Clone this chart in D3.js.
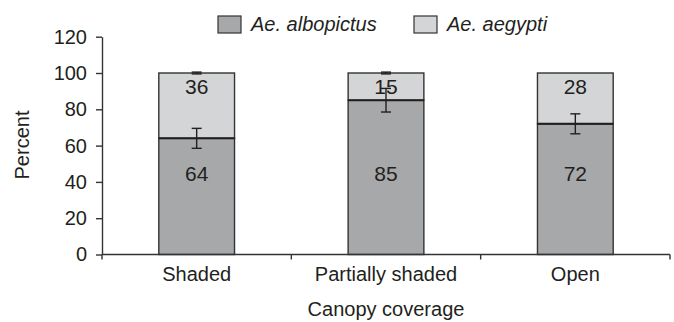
<!DOCTYPE html>
<html>
<head>
<meta charset="utf-8">
<script src="https://cdn.jsdelivr.net/npm/d3@7"></script>
<style>
  body { margin: 0; background: #fff; }
  svg { display: block; font-family: "Liberation Sans", Arial, sans-serif; }
</style>
</head>
<body>
<div id="chart"></div>
<script>
const categories = ["Shaded", "Partially shaded", "Open"];
const series = ["Ae. albopictus", "Ae. aegypti"];
const albopictus = [64, 85, 72];
const aegypti = [36, 15, 28];
const albopictusErr = [5.5, 6.5, 5.5];
const aegyptiErr = [0.5, 0.5, 0];
const yTicks = [0, 20, 40, 60, 80, 100, 120];

const width = 674, height = 322;
const ink = "#231f20";
const colors = ["#a7a8aa", "#d4d5d6"];

const svg = d3.select("#chart")
    .append("svg")
    .attr("width", width)
    .attr("height", height);

const x = d3.scaleBand()
    .domain(categories)
    .range([102, 670])
    .padding(0);

const y = d3.scaleLinear()
    .domain([0, 120])
    .range([254.5, 36.7]);

const barW = x.bandwidth() * 0.4;

// stacked data
const stackData = categories.map((c, i) => ({
    cat: c,
    "Ae. albopictus": albopictus[i],
    "Ae. aegypti": aegypti[i]
}));
const stacked = d3.stack().keys(series)(stackData);

const layers = svg.selectAll(".layer")
    .data(stacked)
    .enter()
    .append("g")
    .attr("class", "layer")
    .attr("fill", (d, i) => colors[i]);

layers.selectAll("rect")
    .data(d => d)
    .enter()
    .append("rect")
    .attr("x", d => x(d.data.cat) + (x.bandwidth() - barW) / 2)
    .attr("y", d => y(d[1]))
    .attr("width", barW)
    .attr("height", d => y(d[0]) - y(d[1]))
    .attr("stroke", "#333")
    .attr("stroke-width", 1.4);

// darker boundary between the two segments
svg.selectAll(".split")
    .data(stacked[0])
    .enter()
    .append("line")
    .attr("x1", d => x(d.data.cat) + (x.bandwidth() - barW) / 2)
    .attr("x2", d => x(d.data.cat) + (x.bandwidth() + barW) / 2)
    .attr("y1", d => y(d[1]))
    .attr("y2", d => y(d[1]))
    .attr("stroke", ink)
    .attr("stroke-width", 2);

// error bars
const errs = [albopictusErr, aegyptiErr];
stacked.forEach((layer, si) => {
    layer.forEach((d, i) => {
        const e = errs[si][i];
        if (!e) return;
        const cx = x(d.data.cat) + x.bandwidth() / 2;
        const g = svg.append("g")
            .attr("stroke", ink)
            .attr("stroke-width", 1.4);
        g.append("line")
            .attr("x1", cx).attr("x2", cx)
            .attr("y1", y(d[1] - e)).attr("y2", y(d[1] + e));
        [d[1] - e, d[1] + e].forEach(v => {
            g.append("line")
                .attr("x1", cx - 5).attr("x2", cx + 5)
                .attr("y1", y(v)).attr("y2", y(v));
        });
    });
});

// value labels
categories.forEach((c, i) => {
    const cx = x(c) + x.bandwidth() / 2;
    svg.append("text")
        .attr("x", cx)
        .attr("y", y(40.5))
        .attr("text-anchor", "middle")
        .attr("fill", ink)
        .style("font-size", "21px")
        .text(albopictus[i]);
    svg.append("text")
        .attr("x", cx)
        .attr("y", y(100) + 21)
        .attr("text-anchor", "middle")
        .attr("fill", ink)
        .style("font-size", "21px")
        .text(aegypti[i]);
});

// y axis
const yAxis = svg.append("g")
    .attr("transform", `translate(${x.range()[0]},0)`)
    .call(d3.axisLeft(y).tickValues(yTicks).tickSize(6).tickSizeOuter(0).tickPadding(9));
yAxis.select(".domain").attr("stroke", "#333").attr("stroke-width", 1.4);
yAxis.selectAll(".tick line").attr("stroke", "#333").attr("stroke-width", 1.4);
yAxis.selectAll(".tick text")
    .attr("fill", ink)
    .style("font-size", "20px")
    .style("font-family", "'Liberation Sans', Arial, sans-serif");

// x axis (ticks between categories)
const x0 = x.range()[0], x1 = x.range()[1];
const xg = svg.append("g").attr("stroke", "#333").attr("stroke-width", 1.4);
xg.append("line")
    .attr("x1", x0).attr("x2", x1)
    .attr("y1", y(0)).attr("y2", y(0));
const boundaries = categories.map(c => x(c)).concat([x1]);
xg.selectAll(".xtick")
    .data(boundaries)
    .enter()
    .append("line")
    .attr("x1", d => d).attr("x2", d => d)
    .attr("y1", y(0)).attr("y2", y(0) + 5);

svg.selectAll(".cat")
    .data(categories)
    .enter()
    .append("text")
    .attr("x", d => x(d) + x.bandwidth() / 2)
    .attr("y", 281)
    .attr("text-anchor", "middle")
    .attr("fill", ink)
    .style("font-size", "20px")
    .text(d => d);

// axis titles
svg.append("text")
    .attr("x", 386)
    .attr("y", 316)
    .attr("text-anchor", "middle")
    .attr("fill", ink)
    .style("font-size", "20px")
    .text("Canopy coverage");

svg.append("text")
    .attr("transform", "rotate(-90)")
    .attr("x", -145)
    .attr("y", 29)
    .attr("text-anchor", "middle")
    .attr("fill", ink)
    .style("font-size", "20px")
    .text("Percent");

// legend
const legendX = [218, 414];
series.forEach((s, i) => {
    svg.append("rect")
        .attr("x", legendX[i])
        .attr("y", 16)
        .attr("width", 23)
        .attr("height", 17)
        .attr("fill", colors[i])
        .attr("stroke", "#333")
        .attr("stroke-width", 1.2);
    svg.append("text")
        .attr("x", legendX[i] + 33)
        .attr("y", 31)
        .attr("fill", ink)
        .style("font-size", "20px")
        .style("font-style", "italic")
        .text(s);
});
</script>
</body>
</html>
